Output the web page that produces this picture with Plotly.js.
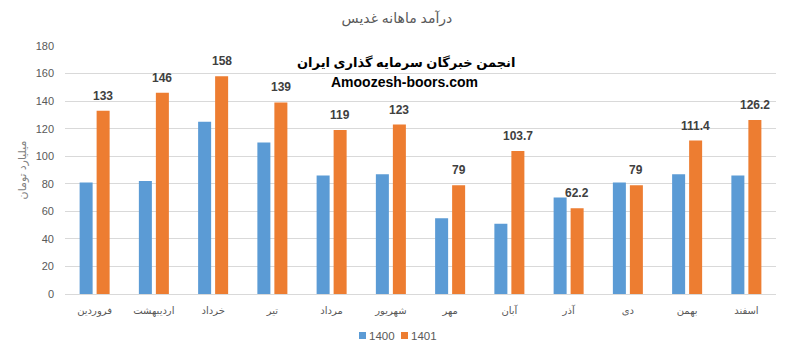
<!DOCTYPE html>
<html><head><meta charset="utf-8">
<script src="https://cdn.plot.ly/plotly-3.0.1.min.js"></script>
<style>body{margin:0;background:#fff}</style>
</head><body><div id="chart" style="width:786px;height:354px"></div>
<script>
const months = ['فروردین','اردیبهشت','خرداد','تیر','مرداد','شهریور','مهر','آبان','آذر','دی','بهمن','اسفند'];
const values1400 = [81, 82, 125, 110, 86, 87, 55, 51, 70, 81, 87, 86];
const values1401 = [133, 146, 158, 139, 119, 123, 79, 103.7, 62.2, 79, 111.4, 126.2];
const seriesNames = ['1400', '1401'];
const seriesColors = ['#5B9BD5', '#ED7D31'];
const yTicks = [0,20,40,60,80,100,120,140,160,180];

const font = 'Liberation Sans, DejaVu Sans, Arial, sans-serif';
const W = 786, H = 354, M = {l:65, r:10, t:46, b:60};
const PW = W - M.l - M.r, PH = H - M.t - M.b;
const px2x = p => (p - M.l) / PW;
const px2y = p => (H - M.b - p) / PH;

const traces = [
  {type:'bar', x:months, y:values1400, name:seriesNames[0], marker:{color:seriesColors[0]}, hoverinfo:'none', showlegend:false},
  {type:'bar', x:months, y:values1401, name:seriesNames[1], marker:{color:seriesColors[1]}, hoverinfo:'none', showlegend:false}
];
const labelAnn = months.map((m,i)=>({
  x:m, y:values1401[i], xref:'x', yref:'y', text:String(values1401[i]), showarrow:false,
  xshift:8.5, yanchor:'bottom', yshift:6, font:{family:font, size:12, color:'#404040', weight:'bold'}
}));
// legend drawn as shapes + text (compact, like the reference)
const legendX = [359, 401];
const legendShapes = seriesNames.map((n,i)=>({
  type:'rect', xref:'paper', yref:'paper', x0:px2x(legendX[i]), x1:px2x(legendX[i]+7),
  y0:px2y(339), y1:px2y(332), fillcolor:seriesColors[i], line:{width:0}
}));
const legendText = seriesNames.map((n,i)=>({
  xref:'paper', yref:'paper', x:px2x(legendX[i]+8), y:px2y(335.5), xanchor:'left', yanchor:'middle',
  showarrow:false, text:n, font:{family:font, size:11.5, color:'#595959'}
}));
const layout = {
  width:W, height:H,
  margin:{l:M.l, r:M.r, t:M.t, b:M.b, autoexpand:false},
  paper_bgcolor:'#fff', plot_bgcolor:'#fff',
  title:{text:'درآمد ماهانه غدیس', x:0.505, xanchor:'center', y:0.95, yanchor:'middle', font:{family:font, size:14, color:'#595959'}},
  barmode:'group', bargap:0.426, bargroupgap:0.235,
  xaxis:{type:'category', showgrid:false, showline:true, linecolor:'#d9d9d9', linewidth:1, ticks:'', ticklabelstandoff:7,
    tickfont:{family:font, size:10, color:'#595959'}, fixedrange:true},
  yaxis:{range:[0,180], tickvals:yTicks, showgrid:true, gridcolor:'#d9d9d9', zeroline:false, showline:false, ticks:'', ticklen:0,
    ticklabelstandoff:10,
    tickfont:{family:font, size:11, color:'#595959'},
    title:{text:'میلیارد تومان', font:{family:font, size:11, color:'#7f7f7f'}, standoff:6}},
  showlegend:false,
  shapes: legendShapes,
  annotations: labelAnn.concat(legendText, [
    {xref:'paper', yref:'paper', x:0.48, y:0.935, xanchor:'center', yanchor:'middle', showarrow:false,
      text:'<b>انجمن خبرگان سرمایه گذاری ایران</b>', font:{family:font, size:13, color:'#000'}},
    {xref:'paper', yref:'paper', x:0.478, y:0.855, xanchor:'center', yanchor:'middle', showarrow:false,
      text:'<b>Amoozesh-boors.com</b>', font:{family:font, size:14, color:'#000'}}
  ])
};
Plotly.newPlot('chart', traces, layout, {displayModeBar:false, staticPlot:true});
</script></body></html>
